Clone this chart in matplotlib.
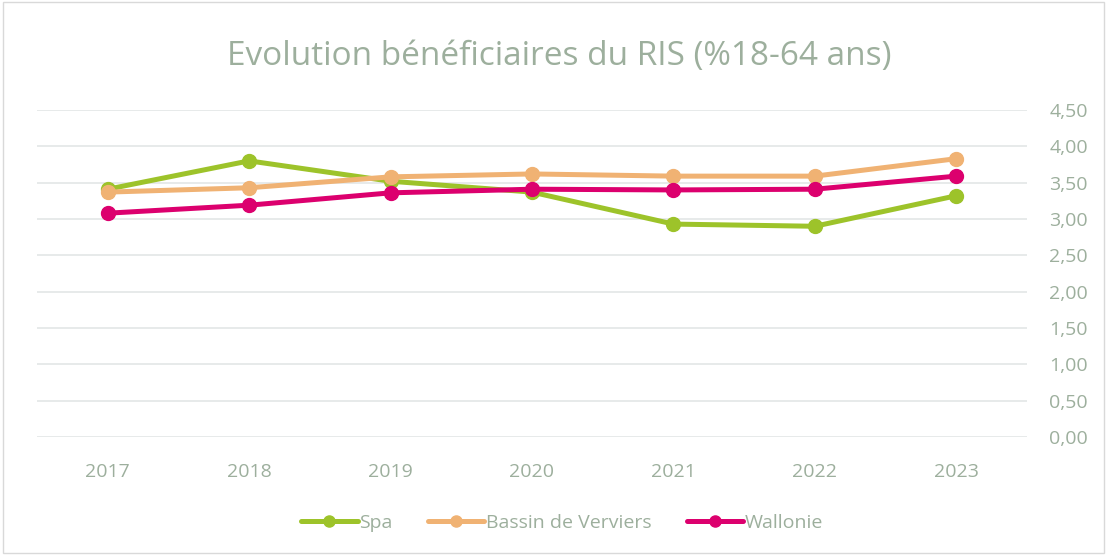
import matplotlib
matplotlib.use('Agg')
import matplotlib.pyplot as plt
from matplotlib.ticker import FuncFormatter, MultipleLocator

years = ['2017', '2018', '2019', '2020', '2021', '2022', '2023']
spa = [3.41, 3.80, 3.52, 3.37, 2.93, 2.90, 3.32]
bassin = [3.37, 3.43, 3.58, 3.62, 3.59, 3.59, 3.83]
wallonie = [3.08, 3.19, 3.36, 3.41, 3.40, 3.41, 3.59]

series = [
    ('Spa', spa, '#9DC32A'),
    ('Bassin de Verviers', bassin, '#F0B273'),
    ('Wallonie', wallonie, '#DC006E'),
]

text_col = '#9DAF9D'
plt.rcParams['font.family'] = ['Open Sans', 'DejaVu Sans']

fig = plt.figure(figsize=(11.07, 5.55), dpi=100)
ax = fig.add_axes([0.0334, 0.2126, 0.8943, 0.5892])

x = list(range(len(years)))
for name, vals, col in series:
    ax.plot(x, vals, color=col, lw=3.6, marker='o', ms=10, label=name,
            solid_capstyle='round', zorder=3)

ax.set_xlim(-0.5, len(years) - 0.5)
ax.set_ylim(0, 4.5)
ax.set_xticks(x)
ax.set_xticklabels(years)
ax.yaxis.set_major_locator(MultipleLocator(0.5))
ax.yaxis.set_major_formatter(FuncFormatter(lambda v, p: '{:.2f}'.format(v).replace('.', ',')))
ax.yaxis.tick_right()
ax.tick_params(axis='both', length=0, labelsize=14, colors=text_col)
ax.tick_params(axis='y', pad=16)
ax.tick_params(axis='x', pad=19)
ax.grid(axis='y', color='#E3E6E6', lw=1.2, zorder=0)
for s in ax.spines.values():
    s.set_visible(False)

fig.text(0.505, 0.898, 'Evolution bénéficiaires du RIS (%18-64 ans)',
         ha='center', va='center', fontsize=24, color=text_col)

leg = fig.legend(loc='center', bbox_to_anchor=(0.508, 0.058), ncol=3, frameon=False,
                 fontsize=14, handlelength=2.9, handletextpad=0.1, columnspacing=1.8,
                 markerscale=0.8)
for t in leg.get_texts():
    t.set_color(text_col)

fig.add_artist(plt.Rectangle((0.003, 0.003), 0.994, 0.994, transform=fig.transFigure,
                             fill=False, ec='#D9D9D9', lw=1))

fig.savefig('out.png', dpi=100)
